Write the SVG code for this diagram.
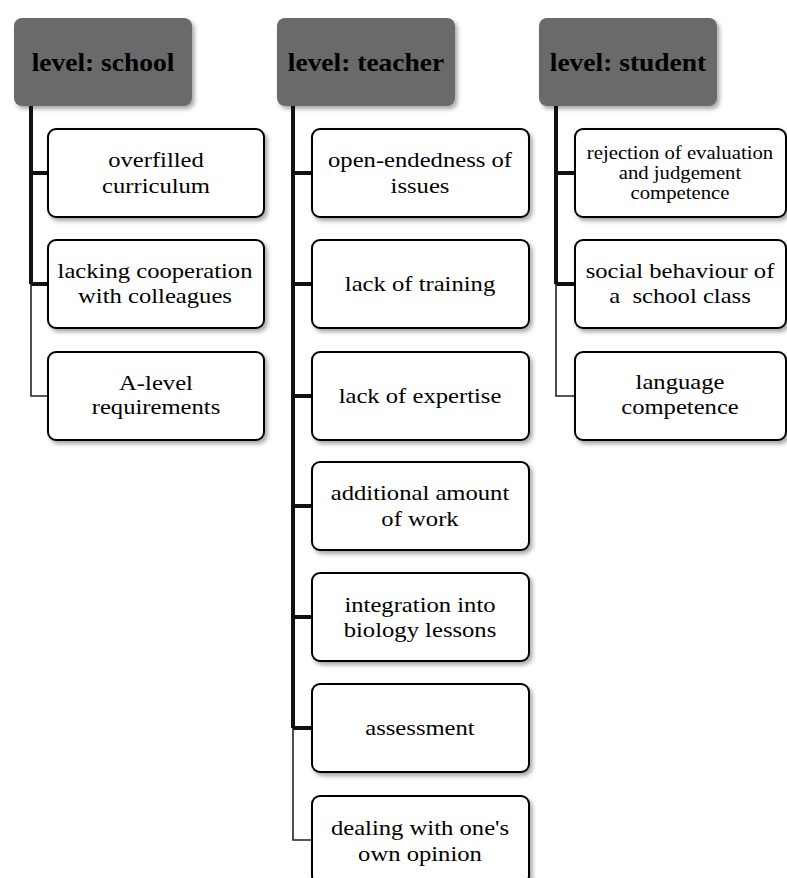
<svg xmlns="http://www.w3.org/2000/svg" width="787" height="878" viewBox="0 0 787 878">
<defs>
<filter id="sh" x="-10%" y="-10%" width="130%" height="140%">
<feDropShadow dx="2.5" dy="3" stdDeviation="2" flood-color="#000" flood-opacity="0.35"/>
</filter>
</defs>
<style>
.hd{fill:#6a6a6a;filter:url(#sh)}
.bx{fill:#fff;stroke:#000;stroke-width:2;filter:url(#sh)}
.ht{font-family:"Liberation Serif",serif;font-weight:bold;font-size:25px;text-anchor:middle;fill:#000}
.t{font-family:"Liberation Serif",serif;font-size:22px;text-anchor:middle;fill:#000;white-space:pre}
.ts{font-family:"Liberation Serif",serif;font-size:18.5px;text-anchor:middle;fill:#000}
.ck{fill:none;stroke:#111;stroke-width:4}
.cn{fill:none;stroke:#222;stroke-width:1.6}
</style>
<rect width="787" height="878" fill="#fff"/>
<g id="connectors">
<path class="ck" d="M31,106 V284 M31,173 H48 M31,284 H48"/>
<path class="cn" d="M31,284 V396 H48"/>
<path class="ck" d="M293,106 V728 M293,173 H312 M293,284 H312 M293,396 H312 M293,506 H312 M293,617 H312 M293,728 H312"/>
<path class="cn" d="M293,728 V840 H312"/>
<path class="ck" d="M556,106 V284 M556,173 H575 M556,284 H575"/>
<path class="cn" d="M556,284 V396 H575"/>
</g>
<g id="school">
<rect class="hd" x="14" y="18" width="178" height="88" rx="8"/>
<text class="ht" transform="translate(103,71) scale(1.1,1)">level: school</text>
</g>
<g id="teacher">
<rect class="hd" x="277" y="18" width="178" height="88" rx="8"/>
<text class="ht" transform="translate(366,71) scale(1.1,1)">level: teacher</text>
</g>
<g id="student">
<rect class="hd" x="539" y="18" width="178" height="88" rx="8"/>
<text class="ht" transform="translate(628,71) scale(1.1,1)">level: student</text>
</g>
<g id="s1">
<rect class="bx" x="48" y="129" width="216" height="88" rx="8"/>
<text class="t" transform="translate(156,167) scale(1.12,1)"><tspan x="0" y="0">overfilled</tspan><tspan x="0" y="26">curriculum</tspan></text>
</g>
<g id="s2">
<rect class="bx" x="48" y="240" width="216" height="88" rx="8"/>
<text class="t" transform="translate(155,278) scale(1.12,1)"><tspan x="0" y="0">lacking cooperation</tspan><tspan x="0" y="25">with colleagues</tspan></text>
</g>
<g id="s3">
<rect class="bx" x="48" y="352" width="216" height="88" rx="8"/>
<text class="t" transform="translate(156,390) scale(1.12,1)"><tspan x="0" y="0">A-level</tspan><tspan x="0" y="24">requirements</tspan></text>
</g>
<g id="t1">
<rect class="bx" x="312" y="129" width="217" height="88" rx="8"/>
<text class="t" transform="translate(420,167) scale(1.12,1)"><tspan x="0" y="0">open-endedness of</tspan><tspan x="0" y="26">issues</tspan></text>
</g>
<g id="t2">
<rect class="bx" x="312" y="240" width="217" height="88" rx="8"/>
<text class="t" transform="translate(420,291) scale(1.12,1)">lack of training</text>
</g>
<g id="t3">
<rect class="bx" x="312" y="352" width="217" height="88" rx="8"/>
<text class="t" transform="translate(420,403) scale(1.12,1)">lack of expertise</text>
</g>
<g id="t4">
<rect class="bx" x="312" y="462" width="217" height="88" rx="8"/>
<text class="t" transform="translate(420,500) scale(1.12,1)"><tspan x="0" y="0">additional amount</tspan><tspan x="0" y="26">of work</tspan></text>
</g>
<g id="t5">
<rect class="bx" x="312" y="573" width="217" height="88" rx="8"/>
<text class="t" transform="translate(420,612) scale(1.12,1)"><tspan x="0" y="0">integration into</tspan><tspan x="0" y="25">biology lessons</tspan></text>
</g>
<g id="t6">
<rect class="bx" x="312" y="684" width="217" height="88" rx="8"/>
<text class="t" transform="translate(420,735) scale(1.12,1)">assessment</text>
</g>
<g id="t7">
<rect class="bx" x="312" y="796" width="217" height="88" rx="8"/>
<text class="t" transform="translate(420,835) scale(1.12,1)"><tspan x="0" y="0">dealing with one's</tspan><tspan x="0" y="26">own opinion</tspan></text>
</g>
<g id="st1">
<rect class="bx" x="575" y="129" width="211" height="88" rx="8"/>
<text class="ts" transform="translate(680,159) scale(1.12,1)"><tspan x="0" y="0">rejection of evaluation</tspan><tspan x="0" y="20">and judgement</tspan><tspan x="0" y="40">competence</tspan></text>
</g>
<g id="st2">
<rect class="bx" x="575" y="240" width="211" height="88" rx="8"/>
<text class="t" transform="translate(680,278) scale(1.12,1)"><tspan x="0" y="0">social behaviour of</tspan><tspan x="0" y="25">a  school class</tspan></text>
</g>
<g id="st3">
<rect class="bx" x="575" y="352" width="211" height="88" rx="8"/>
<text class="t" transform="translate(680,389) scale(1.12,1)"><tspan x="0" y="0">language</tspan><tspan x="0" y="25">competence</tspan></text>
</g>
</svg>
